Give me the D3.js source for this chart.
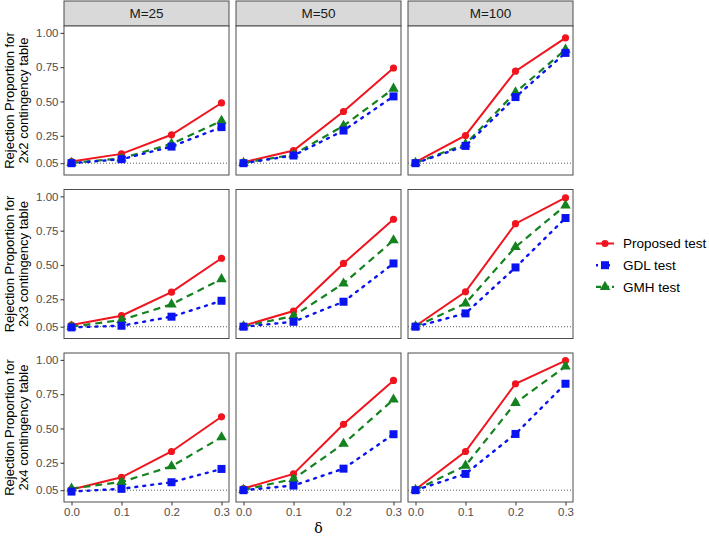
<!DOCTYPE html>
<html>
<head>
<meta charset="utf-8">
<script src="https://cdn.jsdelivr.net/npm/d3@7"></script>
<style>
  body { margin: 0; background: #fff; }
  svg { font-family: "Liberation Sans", Arial, sans-serif; }
</style>
</head>
<body>
<div class="chart"></div>
<script>
const deltas = [0, 0.1, 0.2, 0.3];
const sizes = ["M=25", "M=50", "M=100"];
const tables = ["2x2", "2x3", "2x4"];
const yTicks = [0.05, 0.25, 0.5, 0.75, 1.0];
const xTicks = [0, 0.1, 0.2, 0.3];
const seriesNames = ["Proposed test", "GDL test", "GMH test"];

// [table row][M column][delta]
const proposed = [
  [[0.062, 0.118, 0.257, 0.489], [0.057, 0.142, 0.427, 0.744], [0.057, 0.252, 0.721, 0.964]],
  [[0.062, 0.130, 0.302, 0.549], [0.057, 0.164, 0.511, 0.833], [0.055, 0.304, 0.801, 0.990]],
  [[0.055, 0.144, 0.332, 0.585], [0.062, 0.169, 0.530, 0.850], [0.055, 0.332, 0.826, 0.995]]
];
const gdl = [
  [[0.050, 0.079, 0.171, 0.313], [0.050, 0.106, 0.288, 0.537], [0.050, 0.176, 0.532, 0.854]],
  [[0.045, 0.057, 0.123, 0.239], [0.050, 0.086, 0.232, 0.511], [0.050, 0.147, 0.482, 0.842]],
  [[0.040, 0.060, 0.108, 0.205], [0.050, 0.084, 0.207, 0.458], [0.050, 0.169, 0.460, 0.826]]
];
const gmh = [
  [[0.052, 0.085, 0.191, 0.359], [0.052, 0.113, 0.323, 0.593], [0.052, 0.189, 0.566, 0.878]],
  [[0.050, 0.099, 0.213, 0.397], [0.052, 0.128, 0.365, 0.680], [0.052, 0.220, 0.631, 0.934]],
  [[0.062, 0.110, 0.224, 0.436], [0.052, 0.132, 0.388, 0.711], [0.052, 0.229, 0.686, 0.952]]
];

const series = [
  { name: seriesNames[0], vals: proposed, color: "#f0141e", dash: null, shape: "circle", width: 2 },
  { name: seriesNames[2], vals: gmh, color: "#14821e", dash: "7,5", shape: "triangle", width: 2.2 },
  { name: seriesNames[1], vals: gdl, color: "#0a14f0", dash: "2,6", shape: "square", width: 2.4 }
];

const W = 709, H = 538;
const colX = [64, 236, 408];
const rowY = [26, 189.5, 353];
const pw = 165, ph = 149;

const svg = d3.select(".chart").append("svg")
  .attr("width", W)
  .attr("height", H);

const x = d3.scaleLinear().domain([-0.015, 0.315]).range([0, pw]);
const y = d3.scaleLinear().domain([-0.036, 1.05]).range([ph, 0]);

const line = d3.line()
  .x((d, i) => x(deltas[i]))
  .y(d => y(d));

function marker(sel, shape, color) {
  if (shape === "circle") {
    sel.append("circle").attr("r", 3.6).attr("fill", color);
  } else if (shape === "square") {
    sel.append("rect").attr("x", -4).attr("y", -4).attr("width", 8).attr("height", 8).attr("fill", color);
  } else {
    sel.append("path").attr("d", d3.symbol(d3.symbolTriangle, 48)()).attr("fill", color);
  }
}

// strips
sizes.forEach((s, c) => {
  const st = svg.append("g").attr("transform", `translate(${colX[c]},1)`);
  st.append("rect").attr("width", pw).attr("height", rowY[0] - 1)
    .attr("fill", "#d9d9d9").attr("stroke", "#4d4d4d").attr("stroke-width", 1);
  st.append("text").attr("x", pw / 2).attr("y", (rowY[0] - 1) / 2)
    .attr("dy", "0.36em").attr("text-anchor", "middle")
    .attr("font-size", 13.5).attr("fill", "#1a1a1a").text(s);
});

tables.forEach((t, r) => {
  // y axis title
  const cy = rowY[r] + ph / 2;
  const title = svg.append("text")
    .attr("transform", `translate(0,${cy}) rotate(-90)`)
    .attr("text-anchor", "middle").attr("font-size", 13).attr("fill", "#000");
  title.append("tspan").attr("x", 0).attr("y", 13.5).text("Rejection Proportion for");
  title.append("tspan").attr("x", 0).attr("y", 28).text(t + " contingency table");

  sizes.forEach((s, c) => {
    const g = svg.append("g").attr("transform", `translate(${colX[c]},${rowY[r]})`);

    g.append("rect").attr("width", pw).attr("height", ph).attr("fill", "#fff");

    // reference line at 0.05
    g.append("line")
      .attr("x1", 0).attr("x2", pw)
      .attr("y1", y(0.05)).attr("y2", y(0.05))
      .attr("stroke", "#333").attr("stroke-width", 0.8)
      .attr("stroke-dasharray", "1,2");

    series.forEach(se => {
      g.append("path")
        .datum(se.vals[r][c])
        .attr("fill", "none")
        .attr("stroke", se.color)
        .attr("stroke-width", se.width)
        .attr("stroke-dasharray", se.dash)
        .attr("stroke-linecap", se.dash === "2,6" ? "round" : "butt")
        .attr("d", line);
    });
    series.forEach(se => {
      g.append("g").selectAll("g")
        .data(se.vals[r][c])
        .enter()
        .append("g")
        .attr("transform", (d, i) => `translate(${x(deltas[i])},${y(d)})`)
        .each(function () { marker(d3.select(this), se.shape, se.color); });
    });

    g.append("rect").attr("width", pw).attr("height", ph)
      .attr("fill", "none").attr("stroke", "#4d4d4d").attr("stroke-width", 1);

    if (c === 0) {
      const ya = g.append("g")
        .call(d3.axisLeft(y).tickValues(yTicks).tickSize(3.5).tickPadding(2).tickFormat(d3.format(".2f")));
      ya.select(".domain").remove();
      ya.selectAll(".tick line").attr("stroke", "#333");
      ya.selectAll(".tick text").attr("font-size", 11.5).attr("fill", "#4d4d4d")
        .attr("font-family", "Liberation Sans, Arial, sans-serif");
    }
    if (r === 2) {
      const xa = g.append("g").attr("transform", `translate(0,${ph})`)
        .call(d3.axisBottom(x).tickValues(xTicks).tickSize(3.5).tickPadding(2).tickFormat(d3.format(".1f")));
      xa.select(".domain").remove();
      xa.selectAll(".tick line").attr("stroke", "#333");
      xa.selectAll(".tick text").attr("font-size", 11.5).attr("fill", "#4d4d4d")
        .attr("font-family", "Liberation Sans, Arial, sans-serif");
    }
  });
});

// x axis title
svg.append("text")
  .attr("x", colX[1] + pw / 2).attr("y", 533)
  .attr("text-anchor", "middle")
  .attr("font-family", "DejaVu Serif, serif")
  .attr("font-size", 14).attr("fill", "#000")
  .text("δ");

// legend
const legendOrder = [series[0], series[2], series[1]];
const lg = svg.append("g").attr("transform", "translate(596,243.5)");
legendOrder.forEach((se, i) => {
  const row = lg.append("g").attr("transform", `translate(0,${i * 21.7})`);
  row.append("line").attr("x1", 0).attr("x2", 18)
    .attr("stroke", se.color).attr("stroke-width", se.width)
    .attr("stroke-dasharray", se.dash === "2,6" ? "2,4" : (se.dash ? "5,3" : null));
  const m = row.append("g").attr("transform", "translate(9,0)");
  marker(m, se.shape, se.color);
  row.append("text").attr("x", 27).attr("y", 0).attr("dy", "0.36em")
    .attr("font-size", 13.5).attr("fill", "#000").text(se.name);
});
</script>
</body>
</html>
